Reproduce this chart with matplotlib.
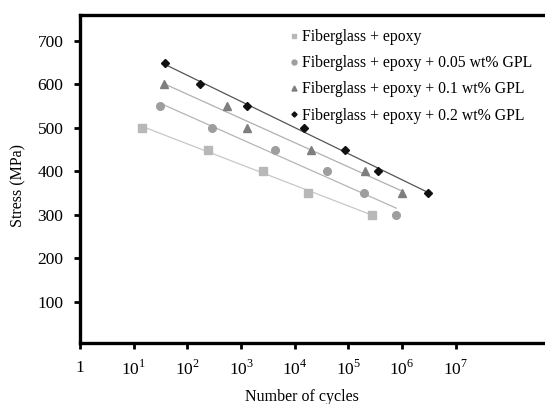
import numpy as np
import matplotlib
matplotlib.use("Agg")
import matplotlib.pyplot as plt

plt.rcParams['font.family'] = ['Liberation Serif', 'DejaVu Serif']
plt.rcParams['mathtext.fontset'] = 'custom'
plt.rcParams['mathtext.rm'] = 'Liberation Serif'

# cycles to failure and stress (MPa) for each material
cycles_plain = [14, 240, 2600, 18000, 275000]
stress_plain = [500, 450, 400, 350, 300]

cycles_005 = [31, 290, 4200, 40000, 195000, 780000]
stress_005 = [550, 500, 450, 400, 350, 300]

cycles_01 = [37, 550, 1300, 20000, 205000, 1000000]
stress_01 = [600, 550, 500, 450, 400, 350]

cycles_02 = [38, 170, 1300, 15000, 88000, 360000, 3100000]
stress_02 = [650, 600, 550, 500, 450, 400, 350]

labels = ["Fiberglass + epoxy",
          "Fiberglass + epoxy + 0.05 wt% GPL",
          "Fiberglass + epoxy + 0.1 wt% GPL",
          "Fiberglass + epoxy + 0.2 wt% GPL"]

xtick_labels = ["1"] + ["$10^{%d}$" % i for i in range(1, 8)]
yticks = [100, 200, 300, 400, 500, 600, 700]

fig = plt.figure(figsize=(5.45, 4.04), dpi=100)
ax = fig.add_axes([0.147, 0.151, 0.886, 0.812])

series = [
    (cycles_plain, stress_plain, 's', '#b8b8b8', '#c8c8c8', 5.5),
    (cycles_005, stress_005, 'o', '#9e9e9e', '#b5b5b5', 5.5),
    (cycles_01, stress_01, '^', '#7e7e7e', '#b0b0b0', 5.5),
    (cycles_02, stress_02, 'D', '#111111', '#555555', 4),
]

for (n, s, m, c, lc, ms), lab in zip(series, labels):
    n = np.array(n, dtype=float)
    s = np.array(s, dtype=float)
    # log-linear fit line across the tested range
    k, b = np.polyfit(np.log10(n), s, 1)
    xs = np.array([n.min(), n.max()])
    ax.plot(xs, k * np.log10(xs) + b, color=lc, lw=0.9, zorder=1)
    ax.plot(n, s, linestyle='none', marker=m, color=c, ms=ms, label=lab, zorder=2)

ax.set_xscale('log')
ax.set_xlim(1, 1e9)
ax.set_ylim(5, 760)
ax.set_xticks([10.0 ** i for i in range(8)])
ax.set_xticklabels(xtick_labels)
ax.minorticks_off()
ax.set_yticks(yticks)

for side in ['left', 'bottom', 'top']:
    ax.spines[side].set_linewidth(2.4)
ax.spines['right'].set_visible(False)
ax.tick_params(direction='out', length=4, width=2, labelsize=12.5, pad=8)

ax.set_xlabel("Number of cycles", fontsize=11.5)
ax.set_ylabel("Stress (MPa)", fontsize=11.5)
ax.xaxis.set_label_coords(0.46, -0.14)
ax.yaxis.set_label_coords(-0.112, 0.48)

leg = ax.legend(loc='upper left', bbox_to_anchor=(0.405, 1.0), frameon=False,
                fontsize=11.3, handlelength=0.55, handletextpad=0.25,
                labelspacing=0.65, markerscale=0.65)

fig.savefig("out.png", dpi=100)
